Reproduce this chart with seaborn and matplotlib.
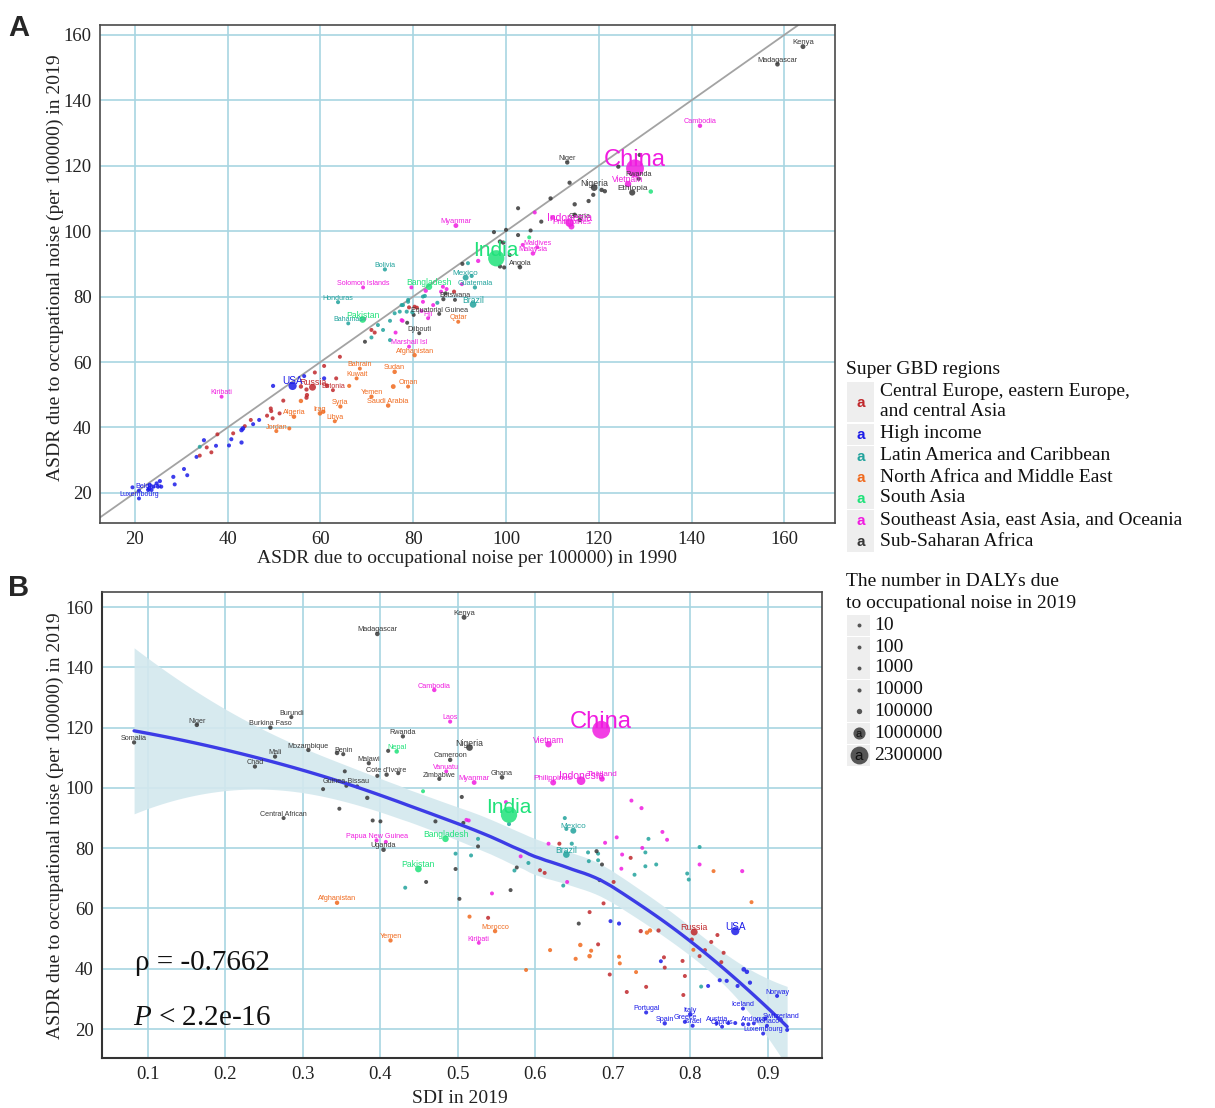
import numpy as np
import pandas as pd
import matplotlib
matplotlib.use("Agg")
import matplotlib.pyplot as plt
import seaborn as sns

sns.set_style("white")
plt.rcParams['font.family'] = ['Liberation Serif', 'DejaVu Serif']
plt.rcParams['mathtext.fontset'] = 'custom'
plt.rcParams['mathtext.rm'] = 'Liberation Serif'
plt.rcParams['mathtext.it'] = 'Liberation Serif:italic'

# ---------------- data ----------------
region_names = {
    "CE": "Central Europe, eastern Europe, and central Asia",
    "HI": "High income",
    "LA": "Latin America and Caribbean",
    "NA": "North Africa and Middle East",
    "SA": "South Asia",
    "SE": "Southeast Asia, east Asia, and Oceania",
    "SS": "Sub-Saharan Africa",
}
region_order = ["CE", "HI", "LA", "NA", "SA", "SE", "SS"]
palette = {"CE": "#C0282C", "HI": "#1C1CE8", "LA": "#22A39D", "NA": "#F06A1E",
           "SA": "#20E27A", "SE": "#F01CE0", "SS": "#383838"}

# Panel A: labelled countries
a_country = ["Kenya", "Madagascar", "Cambodia", "Niger", "China", "Vietnam", "Rwanda", "Nigeria", "Ethiopia", "Myanmar",
             "Indonesia", "Ghana", "Philippines", "India", "Maldives", "Malaysia", "Angola", "Bolivia", "Mexico", "Bangladesh",
             "Solomon Islands", "Guatemala", "Honduras", "Brazil", "Botswana", "Pakistan", "Bahamas", "Equatorial Guinea", "Fiji", "Qatar",
             "Djibouti", "Marshall Isl", "Afghanistan", "Bahrain", "Sudan", "Kuwait", "USA", "Russia", "Oman", "Estonia",
             "Kiribati", "Yemen", "Saudi Arabia", "Syria", "Iraq", "Algeria", "Libya", "Jordan", "Belgium", "Luxembourg"]
a_region = ["SS", "SS", "SE", "SS", "SE", "SE", "SS", "SS", "SS", "SE",
            "SE", "SS", "SE", "SA", "SE", "SE", "SS", "LA", "LA", "SA",
            "SE", "LA", "LA", "LA", "SS", "SA", "LA", "SS", "SE", "NA",
            "SS", "SE", "NA", "NA", "NA", "NA", "HI", "CE", "NA", "CE",
            "SE", "NA", "NA", "NA", "NA", "NA", "NA", "NA", "HI", "HI"]
a_asdr1990 = [164.0, 158.5, 141.8, 113.2, 127.8, 126.3, 128.6, 119.0, 127.2, 89.2,
              113.7, 115.9, 114.1, 97.9, 106.7, 105.8, 103.0, 73.9, 91.3, 83.4,
              69.2, 93.3, 63.8, 92.9, 89.0, 69.1, 66.0, 85.6, 83.2, 89.7,
              81.3, 79.1, 80.3, 68.5, 76.0, 67.8, 54.0, 58.3, 78.9, 62.7,
              38.7, 71.0, 74.6, 64.3, 59.9, 54.3, 63.1, 50.5, 22.9, 20.9]
a_asdr2019 = [156.4, 151.0, 132.2, 121.0, 119.2, 114.4, 116.0, 113.3, 111.8, 101.7,
              102.6, 103.4, 101.4, 91.7, 95.1, 93.2, 89.0, 88.3, 85.8, 83.0,
              82.8, 82.8, 78.3, 77.6, 79.0, 73.0, 71.8, 74.7, 73.4, 72.3,
              68.8, 64.7, 62.1, 58.0, 57.0, 55.0, 52.7, 52.3, 52.5, 51.4,
              49.4, 49.4, 46.7, 46.4, 44.3, 43.3, 41.9, 38.9, 20.9, 18.3]
a_dalys = [70000, 45000, 30000, 30000, 2300000, 200000, 20000, 220000, 170000, 60000,
           450000, 40000, 150000, 1900000, 1000, 40000, 40000, 15000, 150000, 200000,
           800, 20000, 10000, 220000, 3000, 220000, 500, 1500, 1500, 3000,
           1500, 100, 30000, 1500, 35000, 4000, 400000, 250000, 5000, 1500,
           150, 25000, 35000, 20000, 40000, 40000, 6000, 8000, 20000, 1000]

# Panel A: other countries (unlabelled)
a_other_region = (["SS"] * 27 + ["SA"] * 2 + ["SE"] * 17 + ["LA"] * 19 + ["CE"] * 28 + ["HI"] * 27 + ["NA"] * 5)
a_other_1990 = [128.8, 124.2, 120.6, 121.3, 113.7, 109.6, 117.8, 118.8, 114.8, 102.6, 114.8, 107.6, 97.4, 100.0, 102.6, 105.3,
                98.7, 99.4, 90.6, 98.7, 99.6, 100.8, 87.0, 80.1, 78.7, 69.6, 86.5,
                131.2, 105.0,
                106.2, 110.0, 103.6, 94.0, 82.7, 79.6, 90.5, 86.0, 87.2, 84.3, 82.1, 81.8, 77.5, 69.5, 76.2, 77.7, 86.4,
                91.8, 92.6, 82.5, 85.2, 78.9, 77.5, 78.6, 79.8, 71.0, 73.5, 72.4, 75.0, 75.0, 76.0, 77.1, 77.8, 78.9, 82.1, 34.0,
                88.8, 79.1, 80.8, 80.3, 71.0, 71.7, 64.2, 60.8, 58.8, 63.4, 55.8, 57.0, 61.4, 57.1, 57.0, 52.0, 49.3, 49.4,
                51.2, 48.5, 49.7, 45.0, 43.7, 41.2, 37.8, 35.5, 36.5, 34.0,
                56.5, 49.8, 60.8, 46.8, 45.5, 43.3, 43.0, 43.0, 40.8, 40.3, 37.5, 34.9, 33.3, 30.6, 31.3, 28.3, 28.6, 19.5,
                25.4, 24.7, 25.0, 25.7, 24.0, 23.2, 23.1, 23.6, 20.9,
                55.8, 66.2, 75.7, 53.3, 60.6]
a_other_2019 = [123.3, 119.7, 112.6, 112.2, 114.8, 110.0, 109.2, 111.1, 108.2, 107.0, 105.0, 102.9, 99.7, 100.4, 98.8, 100.2,
                96.8, 96.5, 90.0, 89.2, 88.9, 92.7, 81.0, 74.4, 72.0, 66.2, 79.2,
                112.1, 98.1,
                105.7, 104.1, 95.8, 90.9, 81.8, 82.8, 83.8, 81.5, 82.3, 77.4, 78.4, 75.6, 72.8, 73.2, 69.0, 72.6, 83.0,
                90.2, 86.3, 80.2, 78.1, 78.4, 77.4, 75.4, 75.2, 67.5, 69.8, 71.3, 66.7, 72.6, 74.9, 75.4, 77.4, 79.0, 80.0, 34.1,
                81.5, 76.7, 76.6, 76.9, 69.8, 69.0, 61.6, 58.8, 56.8, 55.0, 52.5, 51.6, 52.8, 49.9, 49.1, 48.2, 45.8, 45.0,
                44.3, 43.6, 42.8, 42.3, 40.4, 38.2, 37.9, 33.9, 32.4, 31.4,
                55.7, 52.7, 55.0, 42.3, 41.0, 39.7, 39.2, 35.4, 36.4, 34.5, 34.4, 36.1, 31.0, 27.3, 25.4, 24.9, 22.6, 21.7,
                23.6, 22.9, 21.9, 21.9, 21.9, 22.4, 21.4, 20.9, 20.7,
                48.1, 52.7, 52.5, 39.7, 44.8]
a_other_dalys = [15000, 20000, 30000, 25000, 20000, 20000, 20000, 20000, 25000, 10000, 30000, 15000, 12000, 10000, 10000, 10000,
                 30000, 25000, 10000, 20000, 12000, 5000, 6000, 4000, 4000, 4000, 15000,
                 35000, 4000,
                 1500, 20000, 1500, 20000, 25000, 1500, 4000, 3000, 3000, 3000, 3000, 3000, 3000, 1500, 3000, 10000, 3000,
                 6000, 12000, 10000, 8000, 6000, 6000, 10000, 12000, 4000, 4000, 4000, 6000, 4000, 4000, 4000, 4000, 4000, 4000, 2000,
                 12000, 6000, 6000, 6000, 6000, 6000, 6000, 6000, 6000, 6000, 25000, 20000, 25000, 20000, 20000, 8000, 8000, 8000,
                 8000, 6000, 6000, 4000, 4000, 5000, 4000, 4000, 4000, 4000,
                 6000, 15000, 15000, 6000, 6000, 40000, 40000, 20000, 10000, 6000, 5000, 15000, 4000, 6000, 6000, 15000, 6000, 4000,
                 15000, 10000, 10000, 8000, 10000, 40000, 40000, 10000, 4000,
                 30000, 12000, 60000, 4000, 25000]

# Panel B: labelled countries
b_country = ["Kenya", "Madagascar", "Cambodia", "Burundi", "Niger", "Burkina Faso", "Laos", "Rwanda", "Somalia", "China",
             "Nigeria", "Vietnam", "Mozambique", "Benin", "Mali", "Nepal", "Malawi", "Cameroon", "Chad", "Vanuatu",
             "Cote d'Ivoire", "Zimbabwe", "Myanmar", "Ghana", "Philippines", "Indonesia", "Thailand", "Guinea-Bissau", "India", "Central African",
             "Bangladesh", "Papua New Guinea", "Mexico", "Uganda", "Brazil", "Pakistan", "Afghanistan", "Russia", "USA", "Morocco",
             "Yemen", "Kiribati", "Norway", "Iceland", "Portugal", "Italy", "Spain", "Greece", "Israel", "Austria",
             "Cyprus", "Andorra", "Monaco", "Luxembourg", "Switzerland"]
b_region = ["SS", "SS", "SE", "SS", "SS", "SS", "SE", "SS", "SS", "SE",
            "SS", "SE", "SS", "SS", "SS", "SA", "SS", "SS", "SS", "SE",
            "SS", "SS", "SE", "SS", "SE", "SE", "SE", "SS", "SA", "SS",
            "SA", "SE", "LA", "SS", "LA", "SA", "NA", "CE", "HI", "NA",
            "NA", "SE", "HI", "HI", "HI", "HI", "HI", "HI", "HI", "HI",
            "HI", "HI", "HI", "HI", "HI"]
b_sdi = [0.508, 0.396, 0.4695, 0.285, 0.163, 0.258, 0.490, 0.429, 0.082, 0.685,
         0.515, 0.617, 0.307, 0.352, 0.264, 0.421, 0.385, 0.490, 0.238, 0.485,
         0.408, 0.476, 0.521, 0.557, 0.623, 0.659, 0.686, 0.356, 0.566, 0.275,
         0.484, 0.395, 0.649, 0.404, 0.640, 0.449, 0.344, 0.805, 0.858, 0.548,
         0.413, 0.527, 0.912, 0.868, 0.743, 0.800, 0.767, 0.793, 0.803, 0.834,
         0.841, 0.882, 0.899, 0.894, 0.917]
b_asdr2019 = [156.6, 151.1, 132.5, 123.5, 120.9, 120.0, 122.0, 117.1, 115.1, 119.3,
              113.4, 114.5, 112.6, 111.2, 110.4, 112.1, 108.2, 109.3, 107.1, 105.5,
              104.4, 103.0, 101.8, 103.5, 101.8, 102.4, 103.0, 100.7, 91.1, 90.0,
              83.1, 82.6, 85.8, 79.5, 77.9, 73.1, 61.9, 52.2, 52.5, 52.5,
              49.4, 48.6, 31.0, 26.8, 25.5, 24.9, 21.9, 22.4, 21.1, 21.9,
              20.8, 21.9, 21.1, 18.5, 23.0]
b_dalys = [70000, 45000, 30000, 12000, 30000, 30000, 10000, 20000, 20000, 2300000,
           220000, 200000, 30000, 12000, 20000, 35000, 20000, 30000, 20000, 400,
           30000, 15000, 60000, 40000, 150000, 450000, 120000, 2000, 1900000, 6000,
           200000, 10000, 150000, 40000, 220000, 220000, 30000, 250000, 400000, 30000,
           25000, 150, 6000, 600, 8000, 40000, 25000, 8000, 6000, 8000,
           600, 50, 30, 1000, 8000]

# Panel B: other countries (unlabelled)
b_other_region = (["SS"] * 24 + ["SA"] * 1 + ["SE"] * 19 + ["LA"] * 24 + ["CE"] * 26 + ["NA"] * 15 + ["HI"] * 16)
b_other_sdi = [0.344, 0.410, 0.396, 0.423, 0.354, 0.370, 0.326, 0.383, 0.505, 0.347, 0.390, 0.400, 0.471, 0.507, 0.526, 0.497,
               0.459, 0.502, 0.656, 0.576, 0.568, 0.679, 0.686, 0.683,
               0.455,
               0.514, 0.407, 0.562, 0.511, 0.617, 0.690, 0.705, 0.724, 0.737, 0.764, 0.770, 0.712, 0.738, 0.812, 0.581, 0.544,
               0.641, 0.711, 0.867,
               0.526, 0.497, 0.517, 0.432, 0.638, 0.640, 0.647, 0.668, 0.681, 0.669, 0.681, 0.746, 0.742, 0.756, 0.812, 0.591,
               0.573, 0.636, 0.728, 0.742, 0.796, 0.798, 0.566, 0.814,
               0.539, 0.670, 0.681, 0.688, 0.696, 0.718, 0.736, 0.743, 0.759, 0.766, 0.767, 0.790, 0.793, 0.791, 0.802, 0.812,
               0.819, 0.827, 0.835, 0.843, 0.840, 0.723, 0.631, 0.606, 0.612, 0.701,
               0.515, 0.588, 0.619, 0.652, 0.658, 0.670, 0.672, 0.708, 0.709, 0.730, 0.744, 0.748, 0.804, 0.830, 0.879,
               0.697, 0.708, 0.762, 0.869, 0.873, 0.838, 0.847, 0.877, 0.861, 0.823, 0.849, 0.858, 0.868, 0.875, 0.897, 0.925]
b_other_2019 = [111.6, 112.3, 104.0, 104.9, 105.5, 100.5, 99.6, 96.7, 97.0, 93.1, 89.2, 88.9, 88.9, 88.4, 80.6, 73.1,
                68.8, 63.2, 55.0, 73.6, 66.1, 79.0, 74.6, 69.4,
                98.9,
                89.2, 82.1, 95.3, 89.4, 81.5, 81.8, 83.6, 95.8, 93.3, 85.4, 82.8, 77.9, 80.1, 74.6, 77.3, 65.0,
                68.8, 73.2, 72.4,
                83.1, 78.2, 77.6, 66.9, 90.0, 86.4, 81.5, 78.6, 78.2, 75.7, 76.0, 83.1, 78.6, 74.6, 80.4, 75.1,
                72.6, 67.6, 71.2, 74.0, 71.6, 69.6, 88.0, 34.1,
                56.9, 58.8, 48.1, 61.7, 38.1, 32.3, 52.5, 34.0, 52.7, 43.8, 40.4, 42.6, 37.6, 31.3, 49.7, 44.2,
                46.2, 48.9, 51.2, 45.3, 42.2, 76.8, 81.5, 72.7, 71.8, 68.8,
                57.3, 39.6, 46.2, 43.3, 47.9, 44.2, 46.0, 44.0, 41.8, 38.9, 52.0, 52.7, 46.3, 72.4, 62.1,
                55.8, 55.0, 42.5, 39.8, 39.0, 36.2, 36.0, 35.4, 34.3, 34.3, 22.0, 22.0, 21.6, 21.6, 23.5, 19.7]
b_other_dalys = [35000, 10000, 12000, 12000, 4000, 6000, 6000, 25000, 10000, 6000, 6000, 6000, 10000, 6000, 4000, 4000,
                 4000, 4000, 6000, 3000, 4000, 15000, 4000, 4000,
                 4000,
                 1500, 3000, 1500, 1500, 1500, 4000, 3000, 3000, 10000, 1500, 1500, 3000, 1500, 1500, 1500, 1500,
                 1500, 1500, 10000,
                 6000, 4000, 4000, 4000, 6000, 6000, 12000, 4000, 4000, 4000, 4000, 3000, 3000, 3000, 3000, 4000,
                 4000, 3000, 3000, 3000, 3000, 3000, 6000, 3000,
                 6000, 5000, 5000, 6000, 5000, 5000, 20000, 4000, 20000, 4000, 4000, 6000, 4000, 4000, 10000, 4000,
                 4000, 6000, 4000, 4000, 4000, 6000, 10000, 4000, 4000, 4000,
                 10000, 3000, 10000, 12000, 30000, 40000, 10000, 6000, 6000, 4000, 25000, 30000, 4000, 4000, 4000,
                 4000, 12000, 1500, 50000, 40000, 10000, 12000, 20000, 6000, 3000, 6000, 4000, 3000, 3000, 12000, 1500]

rho_text = "ρ = -0.7662"
p_text = r"$\it{P}$ < 2.2e-16"
size_breaks = [10, 100, 1000, 10000, 100000, 1000000, 2300000]

# ---------------- tables ----------------
dfA = pd.DataFrame({
    "country": a_country + [""] * len(a_other_region),
    "region": a_region + a_other_region,
    "x": a_asdr1990 + a_other_1990,
    "y": a_asdr2019 + a_other_2019,
    "dalys": a_dalys + a_other_dalys,
})
dfB = pd.DataFrame({
    "country": b_country + [""] * len(b_other_region),
    "region": b_region + b_other_region,
    "x": b_sdi + b_other_sdi,
    "y": b_asdr2019 + b_other_2019,
    "dalys": b_dalys + b_other_dalys,
})
dfA = dfA.sort_values("dalys").reset_index(drop=True)
dfB = dfB.sort_values("dalys").reset_index(drop=True)

V_MAX = 2300000.0
S_MIN, S_MAX = 8.0, 165.0


def area(v):
    return S_MIN + (S_MAX - S_MIN) * np.asarray(v, float) / V_MAX


def label_size(v):
    return 5.1 + 12.0 * v / V_MAX


# ---------------- figure ----------------
W, H = 1215, 1108
fig = plt.figure(figsize=(W / 100, H / 100), dpi=100)
axA = fig.add_axes([100 / W, 1 - 523 / H, 735 / W, 498 / H])
axB = fig.add_axes([102 / W, 1 - 1058 / H, 720 / W, 466 / H])

GRID = "#A8D5E2"
for ax in (axA, axB):
    ax.set_axisbelow(True)
    ax.grid(True, color=GRID, lw=1.2)
    for sp in ax.spines.values():
        sp.set_color("#4a4a4a")
        sp.set_linewidth(1.2)
    ax.tick_params(direction="out", length=4, width=1, color="#333333",
                   labelsize=13.5, labelcolor="#222222", pad=2)


def draw_points(ax, df):
    sns.scatterplot(data=df, x="x", y="y", hue="region", palette=palette,
                    size="dalys", sizes=(S_MIN, S_MAX), size_norm=(0, V_MAX),
                    legend=False, alpha=0.85, linewidth=0, ax=ax, zorder=3)
    for _, r in df[df["country"] != ""].iterrows():
        fs = label_size(r["dalys"])
        ax.annotate(r["country"], (r["x"], r["y"]), xytext=(0, 1.5 + 0.25 * fs),
                    textcoords="offset points", ha="center", va="center",
                    fontsize=fs, color=palette[r["region"]],
                    family=["Liberation Sans", "DejaVu Sans"], zorder=5)


# Panel A
axA.axline((0, 0), (1, 1), color="#A3A3A3", lw=1.3, zorder=2)
draw_points(axA, dfA)
axA.set_xlim(12.5, 170.9)
axA.set_ylim(10.8, 163.0)
axA.set_xticks(np.arange(20, 161, 20))
axA.set_yticks(np.arange(20, 161, 20))
axA.set_xlabel("ASDR due to occupational noise per 100000) in 1990", fontsize=14, color="#222222")
axA.set_ylabel("ASDR due to occupational noise (per 100000) in 2019", fontsize=14, color="#222222")
axA.xaxis.set_label_coords(0.499, -0.054)
axA.yaxis.set_label_coords(-0.049, 0.512)


# Panel B: loess smooth (degree 2, span 0.75) with 95% band
def loess(x, y, xs, span=0.75):
    n = len(x)
    q = int(np.floor(n * span))

    def row(x0):
        d = np.abs(x - x0)
        h = np.sort(d)[q - 1]
        w = np.clip(1 - (d / h) ** 3, 0, None) ** 3
        X = np.column_stack([np.ones(n), x - x0, (x - x0) ** 2])
        XtW = X.T * w
        return np.linalg.solve(XtW @ X, XtW)[0]

    Lobs = np.array([row(x0) for x0 in x])
    res = y - Lobs @ y
    IL = np.eye(n) - Lobs
    delta1 = np.trace(IL.T @ IL)
    sigma = np.sqrt(np.sum(res ** 2) / delta1)
    Lg = np.array([row(x0) for x0 in xs])
    fit = Lg @ y
    se = sigma * np.sqrt(np.sum(Lg ** 2, axis=1))
    return fit, se


bx = dfB["x"].to_numpy(float)
by = dfB["y"].to_numpy(float)
xs = np.linspace(bx.min(), bx.max(), 120)
fit, se = loess(bx, by, xs)
axB.fill_between(xs, fit - 1.97 * se, fit + 1.97 * se, color="#D3E8EE", alpha=0.9, lw=0, zorder=2)
draw_points(axB, dfB)
axB.plot(xs, fit, color="#3C3CE6", lw=2.4, zorder=4)
axB.set_xlim(0.0406, 0.970)
axB.set_ylim(10.4, 165.0)
axB.set_xticks(np.round(np.arange(0.1, 0.91, 0.1), 1))
axB.set_xticklabels([f"{t:.1f}" for t in np.arange(0.1, 0.91, 0.1)])
axB.set_yticks(np.arange(20, 161, 20))
axB.set_xlabel("SDI in 2019", fontsize=14, color="#222222")
axB.set_ylabel("ASDR due to occupational noise (per 100000) in 2019", fontsize=14, color="#222222")
axB.xaxis.set_label_coords(0.497, -0.068)
axB.yaxis.set_label_coords(-0.053, 0.498)
for s in ("left", "bottom"):
    axB.spines[s].set_color("#333333")
    axB.spines[s].set_linewidth(1.5)
axB.text(0.046, 0.204, rho_text, transform=axB.transAxes, fontsize=21, va="center", ha="left", color="#111111")
axB.text(0.043, 0.086, p_text, transform=axB.transAxes, fontsize=21, va="center", ha="left", color="#111111")

# ---------------- panel letters & legends (pixel overlay) ----------------
lg = fig.add_axes([0, 0, 1, 1])
lg.set_xlim(0, W)
lg.set_ylim(H, 0)
lg.axis("off")
lg.patch.set_alpha(0)
sans = ["Liberation Sans", "DejaVu Sans"]
lg.text(8, 28, "A", fontsize=21, fontweight="bold", family=sans, va="center", ha="left")
lg.text(8, 588, "B", fontsize=21, fontweight="bold", family=sans, va="center", ha="left")

KEY_BG = "#EEEEEE"
lg.text(846, 370, "Super GBD regions", fontsize=14, va="center", ha="left", color="#111111")
item_y = {"CE": 402, "HI": 434, "LA": 456, "NA": 477, "SA": 498, "SE": 520, "SS": 541}
for code in region_order:
    yc = item_y[code]
    hgt = 40 if code == "CE" else 21
    lg.add_patch(plt.Rectangle((847, yc - hgt / 2), 27, hgt, color=KEY_BG, lw=0))
    lg.text(860.5, yc + 1, "a", fontsize=11, fontweight="bold", family=sans,
            color=palette[code], ha="center", va="center")
    if code == "CE":
        lg.text(880, 392, "Central Europe, eastern Europe,", fontsize=14, va="center", ha="left", color="#111111")
        lg.text(880, 412, "and central Asia", fontsize=14, va="center", ha="left", color="#111111")
    else:
        lg.text(880, yc, region_names[code], fontsize=14, va="center", ha="left", color="#111111")

lg.text(846, 581, "The number in DALYs due", fontsize=14, va="center", ha="left", color="#111111")
lg.text(846, 603, "to occupational noise in 2019", fontsize=14, va="center", ha="left", color="#111111")
size_y = [625, 647, 668, 690, 711, 733, 755]
for v, yc in zip(size_breaks, size_y):
    lg.add_patch(plt.Rectangle((847, yc - 10.5), 23, 21, color=KEY_BG, lw=0))
    lg.scatter([858.5], [yc], s=area(v), color="#3a3a3a", alpha=0.85, lw=0)
    if v >= 1000000:
        lg.text(858.5, yc + 1, "a", fontsize=8 if v < 2000000 else 11, family=sans,
                color="#111111", ha="center", va="center")
    lg.text(874, yc, f"{v}", fontsize=14, va="center", ha="left", color="#111111")

fig.savefig("out.png", dpi=100)
